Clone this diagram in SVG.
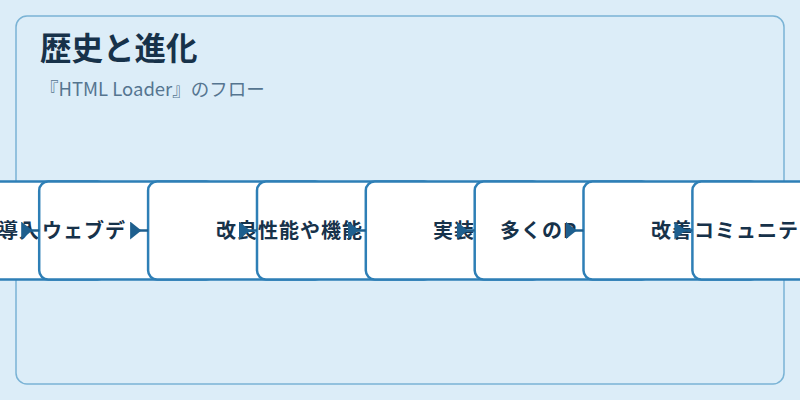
<svg xmlns="http://www.w3.org/2000/svg" width="800" height="400" viewBox="0 0 800 400">
<defs>
<style>
.bg{fill:#dcedf8}
.panel{fill:#dcedf8;stroke:#7ab3d5;stroke-width:1.5}
.title{font-family:"Noto Sans CJK JP","Noto Sans",sans-serif;font-size:31.5px;font-weight:700;fill:#17324a}
.sub{font-family:"Noto Sans CJK JP","Noto Sans",sans-serif;font-size:18.5px;fill:#557590}
.box{fill:#ffffff;stroke:#2e7fb6;stroke-width:2.5}
.lbl{font-family:"Noto Sans CJK JP","Noto Sans",sans-serif;font-size:20px;font-weight:700;fill:#17324a;letter-spacing:1px}
.conn{stroke:#1e5f8e;stroke-width:2.5;fill:none}
</style>
<marker id="ah" markerUnits="userSpaceOnUse" markerWidth="18" markerHeight="18" viewBox="0 0 16 16" refX="16" refY="8" orient="auto">
<path d="M0,0 L10,8 L0,16 Z" fill="#1e5f8e"/>
</marker>
</defs>
<rect class="bg" x="0" y="0" width="800" height="400"/>
<rect class="panel" x="16" y="16" width="768" height="368" rx="11"/>
<text class="title" x="40" y="59.5">歴史と進化</text>
<text class="sub" x="40" y="96">『HTML Loader』のフロー</text>
<g id="node1"><rect class="box" x="-69.6" y="181.5" width="176" height="98" rx="9"/><text class="lbl" x="-2" y="238">導入</text></g>
<g id="node2"><rect class="box" x="39.2" y="181.5" width="176" height="98" rx="9"/><text class="lbl" x="42" y="238">ウェブデ</text></g>
<g id="node3"><rect class="box" x="148.1" y="181.5" width="176" height="98" rx="9"/><text class="lbl" x="216" y="238">改良</text></g>
<g id="node4"><rect class="box" x="257" y="181.5" width="176" height="98" rx="9"/><text class="lbl" x="258" y="238">性能や機能</text></g>
<g id="node5"><rect class="box" x="365.8" y="181.5" width="176" height="98" rx="9"/><text class="lbl" x="433" y="238">実装</text></g>
<g id="node6"><rect class="box" x="474.7" y="181.5" width="176" height="98" rx="9"/><text class="lbl" x="500" y="238">多くのP</text></g>
<g id="node7"><rect class="box" x="583.5" y="181.5" width="176" height="98" rx="9"/><text class="lbl" x="651" y="238">改善</text></g>
<g id="node8"><rect class="box" x="692.4" y="181.5" width="176" height="98" rx="9"/><text class="lbl" x="694" y="238">コミュニテ</text></g>
<g id="connectors">
<line class="conn" x1="25" y1="230.5" x2="39.2" y2="230.5" marker-end="url(#ah)"/>
<line class="conn" x1="134" y1="230.5" x2="148.1" y2="230.5" marker-end="url(#ah)"/>
<line class="conn" x1="243" y1="230.5" x2="257" y2="230.5" marker-end="url(#ah)"/>
<line class="conn" x1="352" y1="230.5" x2="365.8" y2="230.5" marker-end="url(#ah)"/>
<line class="conn" x1="461" y1="230.5" x2="474.7" y2="230.5" marker-end="url(#ah)"/>
<line class="conn" x1="570" y1="230.5" x2="583.5" y2="230.5" marker-end="url(#ah)"/>
<line class="conn" x1="679" y1="230.5" x2="692.4" y2="230.5" marker-end="url(#ah)"/>
</g>
</svg>
